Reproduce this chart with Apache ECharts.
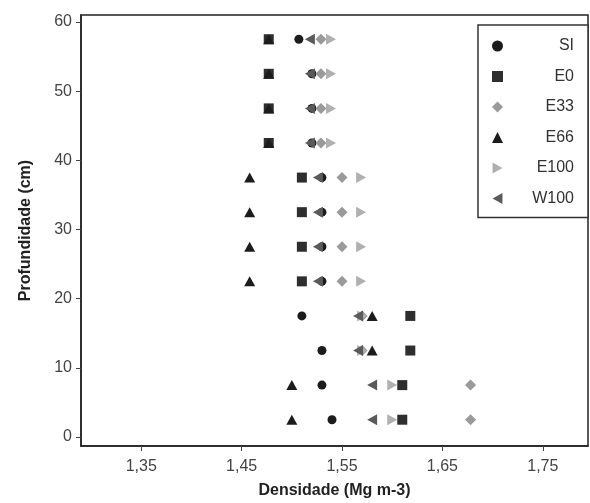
<!DOCTYPE html>
<html><head><meta charset="utf-8">
<script src="https://cdn.jsdelivr.net/npm/echarts@6/dist/echarts.min.js"></script>
<style>html,body{margin:0;padding:0;background:#fff}#c{width:590px;height:503px}</style>
</head><body><div id="c"></div>
<script>
const depths = [2.5, 7.5, 12.5, 17.5, 22.5, 27.5, 32.5, 37.5, 42.5, 47.5, 52.5, 57.5];
const SI   = [1.54, 1.53, 1.53, 1.51, 1.53, 1.53, 1.53, 1.53, 1.52, 1.52, 1.52, 1.507];
const E0   = [1.61, 1.61, 1.618, 1.618, 1.51, 1.51, 1.51, 1.51, 1.477, 1.477, 1.477, 1.477];
const E33  = [1.678, 1.678, 1.57, 1.57, 1.55, 1.55, 1.55, 1.55, 1.529, 1.529, 1.529, 1.529];
const E66  = [1.50, 1.50, 1.58, 1.58, 1.458, 1.458, 1.458, 1.458, 1.477, 1.477, 1.477, 1.477];
const E100 = [1.60, 1.60, 1.57, 1.57, 1.569, 1.569, 1.569, 1.569, 1.539, 1.539, 1.539, 1.539];
const W100 = [1.58, 1.58, 1.566, 1.566, 1.526, 1.526, 1.526, 1.526, 1.518, 1.518, 1.518, 1.518];
const xTicks = [1.35, 1.45, 1.55, 1.65, 1.75];
const yTicks = [0, 10, 20, 30, 40, 50, 60];

const FONT = 'Liberation Sans';
const RIGHT_TRI = 'path://M0,0L9,5L0,10Z';
const LEFT_TRI = 'path://M9,0L0,5L9,10Z';
function pts(vals){ return vals.map((v,i)=>[v, depths[i]]); }
const seriesDefs = [
  {name:'SI', data:SI, symbol:'circle', size:9, color:'#1c1c1c'},
  {name:'E0', data:E0, symbol:'rect', size:10, color:'#2e2e2e'},
  {name:'E33', data:E33, symbol:'diamond', size:11, color:'#9a9a9a'},
  {name:'E66', data:E66, symbol:'triangle', size:[11,10], color:'#1c1c1c'},
  {name:'E100', data:E100, symbol:RIGHT_TRI, size:[10,11], color:'#b0b0b0'},
  {name:'W100', data:W100, symbol:LEFT_TRI, size:[10,11], color:'#5a5a5a'}
];
const chart = echarts.init(document.getElementById('c'));
chart.setOption({
  animation:false,
  backgroundColor:'#fff',
  grid:{left:81, right:2, top:15, bottom:57, show:true, borderColor:'#222', borderWidth:1.5,
    containLabel:false, outerBoundsMode:'none'},
  xAxis:{
    type:'value', min:1.29, max:1.795,
    name:'Densidade (Mg m-3)', nameLocation:'middle', nameGap:37,
    nameTextStyle:{fontFamily:FONT, fontSize:16, fontWeight:'bold', color:'#222'},
    axisLine:{show:true, onZero:false, lineStyle:{color:'#222', width:1.5}},
    axisTick:{show:true, inside:false, length:5, customValues:xTicks, lineStyle:{color:'#444'}},
    axisLabel:{customValues:xTicks, margin:13, fontFamily:FONT, fontSize:16, color:'#444',
      formatter:v=>v.toFixed(2).replace('.',',')},
    splitLine:{show:false}
  },
  yAxis:{
    type:'value', min:-1.3, max:61,
    name:'Profundidade (cm)', nameLocation:'middle', nameGap:47, nameRotate:90,
    nameTextStyle:{fontFamily:FONT, fontSize:16, fontWeight:'bold', color:'#222'},
    axisLine:{show:true, onZero:false, lineStyle:{color:'#222', width:1.5}},
    axisTick:{show:true, length:5, customValues:yTicks, lineStyle:{color:'#444'}},
    axisLabel:{customValues:yTicks, margin:9, fontFamily:FONT, fontSize:16, color:'#444'},
    splitLine:{show:false}
  },
  legend:{
    orient:'vertical', left:478, top:25,
    padding:[13,14,11,14], itemGap:14.5, itemWidth:11, itemHeight:11,
    borderColor:'#333', borderWidth:1.5, backgroundColor:'#fff',
    formatter:n=>'{a|'+n+'}',
    textStyle:{fontFamily:FONT, fontSize:16, color:'#333',
      rich:{a:{fontFamily:FONT, fontSize:16, color:'#333', width:66, align:'right'}}},
    data:seriesDefs.map(s=>({name:s.name, icon:s.symbol, itemStyle:{color:s.color}}))
  },
  series:seriesDefs.map(s=>({
    name:s.name, type:'scatter', data:pts(s.data), symbol:s.symbol, symbolSize:s.size,
    itemStyle:{color:s.color, opacity:1}
  }))
});
</script></body></html>
